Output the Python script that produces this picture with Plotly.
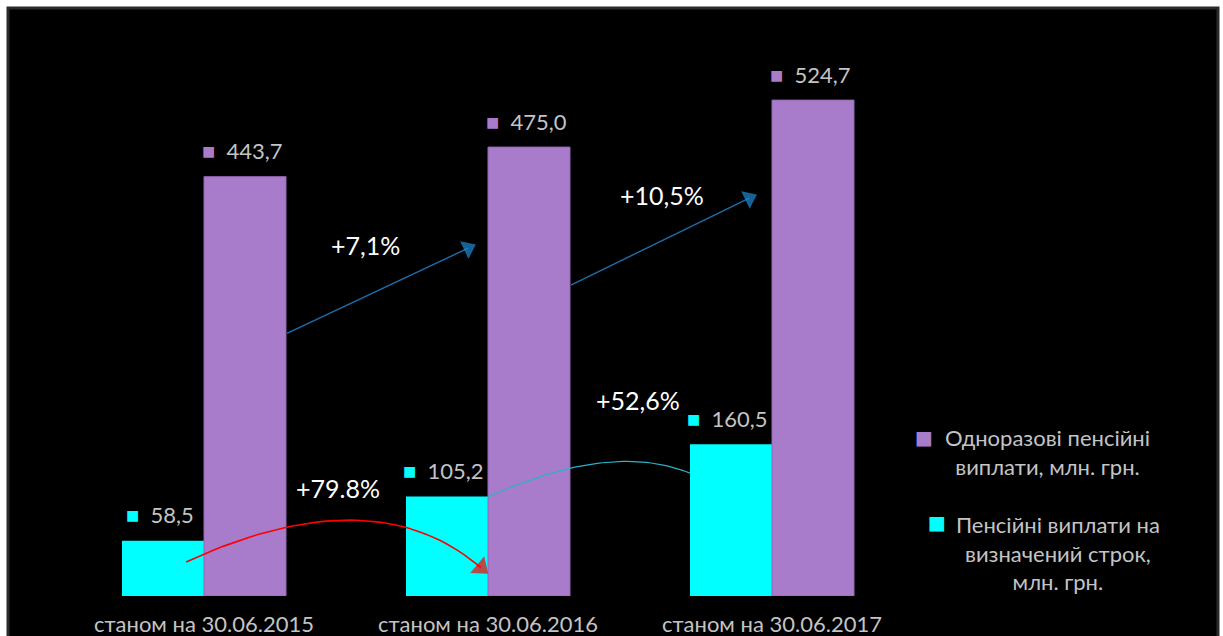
import numpy as np
import plotly.graph_objects as go

# --- data -------------------------------------------------------------
categories = ["станом на 30.06.2015", "станом на 30.06.2016", "станом на 30.06.2017"]
fixed_term = [58.5, 105.2, 160.5]          # Пенсійні виплати на визначений строк
lump_sum = [443.7, 475.0, 524.7]           # Одноразові пенсійні виплати
name_lump = "Одноразові пенсійні<br>виплати, млн. грн."
name_fixed = "Пенсійні виплати на<br>визначений строк,<br>млн. грн."

# --- styling ----------------------------------------------------------
CYAN = "#00ffff"
PURPLE = "#a97bcb"
LABEL_GREY = "#c4c4c4"
FONT = "Lato, 'Open Sans', sans-serif"

x = list(range(len(categories)))

fig = go.Figure()
fig.add_trace(go.Bar(x=x, y=fixed_term, name=name_fixed, marker=dict(color=CYAN, line=dict(width=0)),
                     hoverinfo="skip", showlegend=False))
fig.add_trace(go.Bar(x=x, y=lump_sum, name=name_lump,
                     marker=dict(color=PURPLE, line=dict(width=1, color="#9468b6")),
                     hoverinfo="skip", showlegend=False))


def fmt(v, sep=","):
    return f"{v:.1f}".replace(".", sep)


annotations = []

# value labels with a coloured key square
BAR_W = 0.289
for i in x:
    for vals, col, dx in ((fixed_term, CYAN, -BAR_W / 2), (lump_sum, PURPLE, BAR_W / 2)):
        annotations.append(dict(
            x=i + dx, y=vals[i], xref="x", yref="y", showarrow=False,
            yshift=26, xshift=-3, xanchor="center", yanchor="middle",
            text=f"<span style='color:{col};font-size:22px'>■</span>&nbsp;&nbsp;{fmt(vals[i])}",
            font=dict(family=FONT, size=22, color=LABEL_GREY),
        ))


def bezier(p0, c, p2, n=40):
    t = np.linspace(0, 1, n)[:, None]
    pts = (1 - t) ** 2 * np.array(p0) + 2 * (1 - t) * t * np.array(c) + t ** 2 * np.array(p2)
    return pts[:, 0], pts[:, 1]


def arrow_trace(xs, ys, color, width, head=0, head_color=None):
    sizes = [0] * (len(xs) - 1) + [head]
    return go.Scatter(
        x=xs, y=ys, mode="lines+markers" if head else "lines",
        line=dict(color=color, width=width),
        marker=dict(symbol="triangle-up", size=sizes, color=head_color or color,
                    angleref="previous", line=dict(width=0)),
        hoverinfo="skip", showlegend=False,
    )


# growth arrows for the lump-sum series
blue = "#1b6fae"
blue_head = "#1f8ad6"
fig.add_trace(arrow_trace([0.292, 0.93], [278, 368], blue, 1.4, 17, blue_head))
fig.add_trace(arrow_trace([1.292, 1.92], [329, 421], blue, 1.4, 17, blue_head))

# growth arc for the fixed-term series (red, with head)
rx, ry = bezier((-0.063, 36), (0.597, 127.5), (0.975, 30))
fig.add_trace(arrow_trace(list(rx), list(ry), "#ff0000", 1.6, 19))

# thin arc between the 2016 and 2017 fixed-term bars
cx, cy = bezier((1.0, 104.8), (1.433, 164), (1.711, 130))
fig.add_trace(arrow_trace(list(cx), list(cy), "#2ab3c4", 1.2, 0))

# growth percentages
lump_growth = [(lump_sum[i + 1] / lump_sum[i] - 1) * 100 for i in range(2)]
fixed_growth = [(fixed_term[i + 1] / fixed_term[i] - 1) * 100 for i in range(2)]
pct_labels = [
    (0.567, 371, "+" + fmt(lump_growth[0]) + "%"),
    (1.613, 424, "+" + fmt(lump_growth[1]) + "%"),
    (0.472, 114, "+" + fmt(fixed_growth[0], ".") + "%"),
    (1.528, 207, "+" + fmt(fixed_growth[1]) + "%"),
]
for px, py, t in pct_labels:
    annotations.append(dict(x=px, y=py, xref="x", yref="y", text=t, showarrow=False,
                            font=dict(family=FONT, size=25, color="#ffffff")))


# legend drawn at the right-hand side
def pxx(p):
    return (p - 62) / 852


def pxy(p):
    return (596 - p) / 525


legend_items = [
    (name_lump, PURPLE, 924, 437, 1047, 452),
    (name_fixed, CYAN, 937, 522, 1058, 553),
]
for text, col, sqx, sqy, tx, ty in legend_items:
    annotations.append(dict(x=pxx(sqx), y=pxy(sqy), xref="paper", yref="paper", showarrow=False,
                            text="■", font=dict(family="DejaVu Sans", size=19, color=col),
                            xanchor="center", yanchor="middle"))
    annotations.append(dict(x=pxx(tx), y=pxy(ty), xref="paper", yref="paper", showarrow=False,
                            text=text, align="center", xanchor="center", yanchor="middle",
                            font=dict(family=FONT, size=22, color=LABEL_GREY)))

fig.update_layout(
    width=1223, height=636,
    margin=dict(l=62, r=309, t=71, b=40),
    paper_bgcolor="#ffffff",
    plot_bgcolor="rgba(0,0,0,0)",
    barmode="group", bargap=0.4225, bargroupgap=0,
    showlegend=False,
    xaxis=dict(range=[-0.5, 2.5], tickvals=x, ticktext=categories, showgrid=False,
               zeroline=False, showline=False, ticks="", ticklabelstandoff=13,
               automargin=False,
               tickfont=dict(family=FONT, size=22, color=LABEL_GREY), fixedrange=True),
    yaxis=dict(range=[0, 555.5], visible=False, fixedrange=True),
    annotations=annotations,
    shapes=[dict(type="rect", xref="paper", yref="paper", layer="below",
                 x0=pxx(8), x1=pxx(1218), y0=pxy(660), y1=pxy(8),
                 fillcolor="#000000", line=dict(color="#2b2b2b", width=3))],
)

fig.write_html("out.html")
